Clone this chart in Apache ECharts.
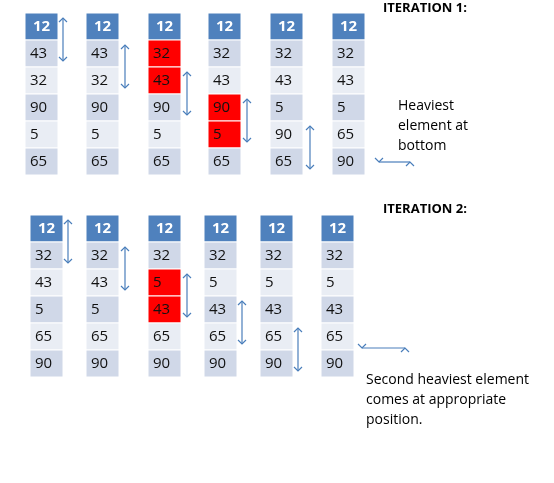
<!DOCTYPE html>
<html><head><meta charset="utf-8">
<script src="https://cdn.jsdelivr.net/npm/echarts@6/dist/echarts.min.js"></script>
<style>html,body{margin:0;padding:0;background:#fff}#c{width:554px;height:483px}</style>
</head><body><div id="c"></div>
<script>
// data
var iter1 = [
  [12,43,32,90,5,65],
  [12,43,32,90,5,65],
  [12,32,43,90,5,65],
  [12,32,43,90,5,65],
  [12,32,43,5,90,65],
  [12,32,43,5,65,90]
];
var iter2 = [
  [12,32,43,5,65,90],
  [12,32,43,5,65,90],
  [12,32,5,43,65,90],
  [12,32,5,43,65,90],
  [12,32,5,43,65,90],
  [12,32,5,43,65,90]
];
var red1 = [[2,1],[2,2],[3,3],[3,4]];
var red2 = [[2,2],[2,3]];
var swapRows1 = [0,1,2,3,4];
var swapRows2 = [0,1,2,3,4];
var titles = ['ITERATION 1:','ITERATION 2:'];
var note1 = 'Heaviest\nelement at\nbottom';
var note2 = 'Second heaviest element\ncomes at appropriate\nposition.';

// layout
var L = [
  {xs:[25,86,148,208,270,332], top:13, arrowDx:[38,39,39,39,40], data:iter1, red:red1, swaps:swapRows1},
  {xs:[30,86,148,204,260,321], top:215, arrowDx:[38,39,39,38,38], data:iter2, red:red2, swaps:swapRows2}
];
var W=33, H=27;
var cells=[], arrows=[];
L.forEach(function(b,bi){
  b.data.forEach(function(col,ci){
    col.forEach(function(v,ri){
      var isRed = b.red.some(function(r){return r[0]===ci&&r[1]===ri;});
      cells.push([b.xs[ci], b.top+ri*H, v, ri, isRed?1:0]);
    });
  });
  b.swaps.forEach(function(r,ci){
    var x=b.xs[ci]+b.arrowDx[ci];
    arrows.push([x, b.top+r*H+5, x, b.top+(r+2)*H-6]);
  });
});
var chart = echarts.init(document.getElementById('c'));
var blue='#4a7ebb';
chart.setOption({
  animation:false,
  grid:{left:0,right:0,top:0,bottom:0},
  xAxis:{type:'value',min:0,max:554,show:false},
  yAxis:{type:'value',min:0,max:483,inverse:true,show:false},
  series:[
   {type:'custom',data:cells,renderItem:function(p,api){
     var a=api.coord([api.value(0),api.value(1)]);
     var b=api.coord([api.value(0)+W,api.value(1)+H]);
     var ri=api.value(3), red=api.value(4);
     var fill = red?'#ff0000':(ri===0?'#4f81bd':(ri%2===1?'#d0d8e8':'#e9edf4'));
     return {type:'group',children:[
       {type:'rect',shape:{x:a[0],y:a[1],width:b[0]-a[0],height:b[1]-a[1]},style:{fill:fill,stroke:'#fff',lineWidth:1}},
       {type:'text',style:{x:a[0]+(ri===0?(b[0]-a[0])/2:5),y:(a[1]+b[1])/2,text:String(api.value(2)),
         fill:ri===0?'#fff':'#111',font:(ri===0?'bold ':'')+'15px "Open Sans", sans-serif',
         align:ri===0?'center':'left',verticalAlign:'middle'}}
     ]};
   }},
   {type:'custom',data:arrows.concat([[410,162,379,162,1],[405,348,362,348,1]]),renderItem:function(p,api){
     var a=api.coord([api.value(0),api.value(1)]), b=api.coord([api.value(2),api.value(3)]);
     var big=api.value(4)===1, s=big?7:4, ch=[];
     ch.push({type:'line',shape:{x1:a[0],y1:a[1],x2:b[0],y2:b[1]},style:{stroke:blue,lineWidth:big?2.5:1.2}});
     if(big){
       ch.push({type:'polyline',shape:{points:[[b[0]+s,b[1]-s],[b[0],b[1]],[b[0]+s,b[1]+s]]},style:{stroke:blue,lineWidth:2.5,fill:null}});
     } else {
       ch.push({type:'polyline',shape:{points:[[a[0]-s,a[1]+s],[a[0],a[1]],[a[0]+s,a[1]+s]]},style:{stroke:blue,lineWidth:1.2,fill:null}});
       ch.push({type:'polyline',shape:{points:[[b[0]-s,b[1]-s],[b[0],b[1]],[b[0]+s,b[1]-s]]},style:{stroke:blue,lineWidth:1.2,fill:null}});
     }
     return {type:'group',children:ch};
   }}
  ],
  graphic:[
    {type:'text',left:383,top:2,style:{text:titles[0],font:'bold 13px "Open Sans", sans-serif',fill:'#000'}},
    {type:'text',left:383,top:203,style:{text:titles[1],font:'bold 13px "Open Sans", sans-serif',fill:'#000'}},
    {type:'text',left:398,top:96,style:{text:note1,font:'14px "Open Sans", sans-serif',fill:'#000',lineHeight:20}},
    {type:'text',left:366,top:370,style:{text:note2,font:'14px "Open Sans", sans-serif',fill:'#000',lineHeight:20}}
  ]
});
</script></body></html>
